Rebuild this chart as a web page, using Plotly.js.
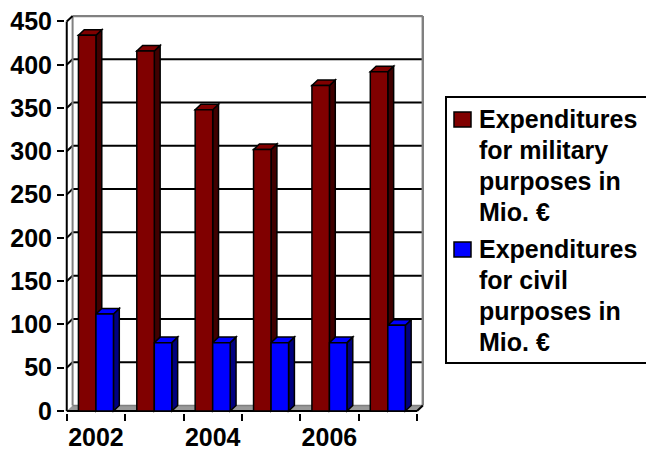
<!DOCTYPE html>
<html><head><meta charset="utf-8">
<script src="https://cdn.plot.ly/plotly-3.0.1.min.js"></script>
<style>html,body{margin:0;padding:0;background:#fff}</style>
</head><body><div id="chart" style="width:646px;height:450px"></div>
<script>
// ---- data ----
const years = [2002, 2003, 2004, 2005, 2006, 2007];
const military = [434, 416, 348, 302, 376, 392];
const civil = [112, 79, 79, 79, 79, 99];
const seriesNames = ['Expenditures<br>for military<br>purposes in<br>Mio. €',
                     'Expenditures<br>for civil<br>purposes in<br>Mio. €'];
const xTickVals = [2002, 2004, 2006];
const xTickText = ['2002', '2004', '2006'];
const yTickVals = [0, 50, 100, 150, 200, 250, 300, 350, 400, 450];

// ---- styling / geometry ----
const FONT = 'Arial, "Liberation Sans", sans-serif';
const M = {l: 65, r: 222, t: 15, b: 37};
const PW = 646 - M.l - M.r, PH = 450 - M.t - M.b;
const px2x = p => (p - M.l) / PW;          // page px -> paper x
const px2y = p => (M.t + PH - p) / PH;     // page px -> paper y
const DX = 0.1, DY = 6.4;                  // 3-D depth in axis units
const X0 = years[0] - 0.5, X1 = years[years.length - 1] + 0.5;
const YMAX = yTickVals[yTickVals.length - 1];
const BW = 0.3;
const colors = {mil: '#800000', milSide: '#400000', civ: '#0000ff', civSide: '#000080'};
const GRAY = '#808080';

function line(xa, ya, xb, yb, color, w) {
  return {type: 'line', layer: 'below', xref: 'x', yref: 'y', x0: xa, y0: ya, x1: xb, y1: yb,
          line: {color: color, width: w}};
}
function poly(pts, fill, w) {
  return {type: 'path', layer: 'below', xref: 'x', yref: 'y',
          path: 'M' + pts.map(p => p[0] + ',' + p[1]).join(' L') + ' Z',
          fillcolor: fill, line: {color: '#000', width: w === undefined ? 1 : w}};
}

const shapes = [];
// floor
shapes.push(poly([[X0, 0], [X1, 0], [X1 + DX, DY], [X0 + DX, DY]], '#999999', 0));
// back wall gridlines + left-wall diagonals
yTickVals.forEach(v => {
  if (v > 0 && v < YMAX) {
    shapes.push(line(X0 + DX, v + DY, X1 + DX, v + DY, '#000', 2));
    shapes.push(line(X0, v, X0 + DX, v + DY, '#000', 2));
  }
});
shapes.push(line(X0 + DX, DY, X1 + DX, DY, GRAY, 1.5));
shapes.push(line(X0 + DX, YMAX + DY, X1 + DX, YMAX + DY, GRAY, 2.5));
shapes.push(line(X0 + DX, DY, X0 + DX, YMAX + DY, GRAY, 2));
shapes.push(line(X1 + DX, DY, X1 + DX, YMAX + DY, GRAY, 2.5));
shapes.push(line(X0, YMAX, X0 + DX, YMAX + DY, '#000', 2));
// front axes
shapes.push(line(X0, 0, X0, YMAX, '#000', 2));
shapes.push(line(X0, 0, X1, 0, '#000', 2));
shapes.push(line(X1, 0, X1 + DX, DY, '#000', 2));

function barFaces(vals, off, front, side) {
  years.forEach((yr, i) => {
    const v = vals[i], a = yr + off, b = a + BW;
    shapes.push(poly([[b, 0], [b, v], [b + DX, v + DY], [b + DX, DY]], side, 1.5));
    shapes.push(poly([[a, v], [b, v], [b + DX, v + DY], [a + DX, v + DY]], front, 1.5));
  });
}
barFaces(military, -BW, colors.mil, colors.milSide);
barFaces(civil, 0, colors.civ, colors.civSide);

// ---- legend (box, swatches, text lines) ----
const legTop = 97, legBottom = 363, legLeft = 446;
shapes.push({type: 'rect', xref: 'paper', yref: 'paper', layer: 'above',
             x0: px2x(legLeft), x1: px2x(660), y0: px2y(legBottom), y1: px2y(legTop),
             fillcolor: '#fff', line: {color: '#000', width: 2}});
const firstBaselines = [127, 257];
const LINE_GAP = 31;
const swatchColors = [colors.mil, colors.civ];
const annotations = [];
seriesNames.forEach((nm, k) => {
  const b0 = firstBaselines[k];
  shapes.push({type: 'rect', xref: 'paper', yref: 'paper', layer: 'above',
               x0: px2x(454), x1: px2x(471), y0: px2y(b0), y1: px2y(b0 - 15),
               fillcolor: swatchColors[k], line: {color: '#000', width: 1.5}});
  nm.split('<br>').forEach((txt, j) => {
    annotations.push({xref: 'paper', yref: 'paper', x: px2x(477), y: px2y(b0 + j * LINE_GAP - 8.5),
                      xanchor: 'left', yanchor: 'middle', align: 'left', showarrow: false,
                      text: txt, font: {family: FONT, size: 25, weight: 700, color: '#000'}});
  });
});

const traces = [
  {type: 'bar', x: years, y: military, name: seriesNames[0], width: BW, offset: -BW,
   marker: {color: colors.mil, line: {color: '#000', width: 1.5}}},
  {type: 'bar', x: years, y: civil, name: seriesNames[1], width: BW, offset: 0,
   marker: {color: colors.civ, line: {color: '#000', width: 1.5}}}
];

const bounds = years.map(y => y - 0.5).concat([X1]);
const layout = {
  width: 646, height: 450,
  margin: M,
  paper_bgcolor: '#fff', plot_bgcolor: 'rgba(0,0,0,0)',
  barmode: 'overlay',
  showlegend: false,
  font: {family: FONT, color: '#000'},
  xaxis: {type: 'linear', range: [X0 - 0.03, X1 + DX + 0.02], showgrid: false, zeroline: false,
          showline: false, tickmode: 'array', tickvals: xTickVals, ticktext: xTickText,
          ticks: 'outside', ticklen: 2, tickcolor: 'rgba(0,0,0,0)',
          tickfont: {family: FONT, size: 25, weight: 700, color: '#000'},
          minor: {tickmode: 'array', tickvals: bounds, ticks: 'outside', ticklen: 7,
                  tickwidth: 2, tickcolor: '#000', showgrid: false}},
  yaxis: {range: [-2.3, 457.5], showgrid: false, zeroline: false, showline: false,
          tickmode: 'array', tickvals: yTickVals, ticks: 'outside', ticklen: 7, tickwidth: 2,
          tickcolor: '#000', tickfont: {family: FONT, size: 25, weight: 700, color: '#000'}},
  shapes: shapes,
  annotations: annotations
};
Plotly.newPlot('chart', traces, layout, {staticPlot: true, displayModeBar: false});
</script></body></html>
